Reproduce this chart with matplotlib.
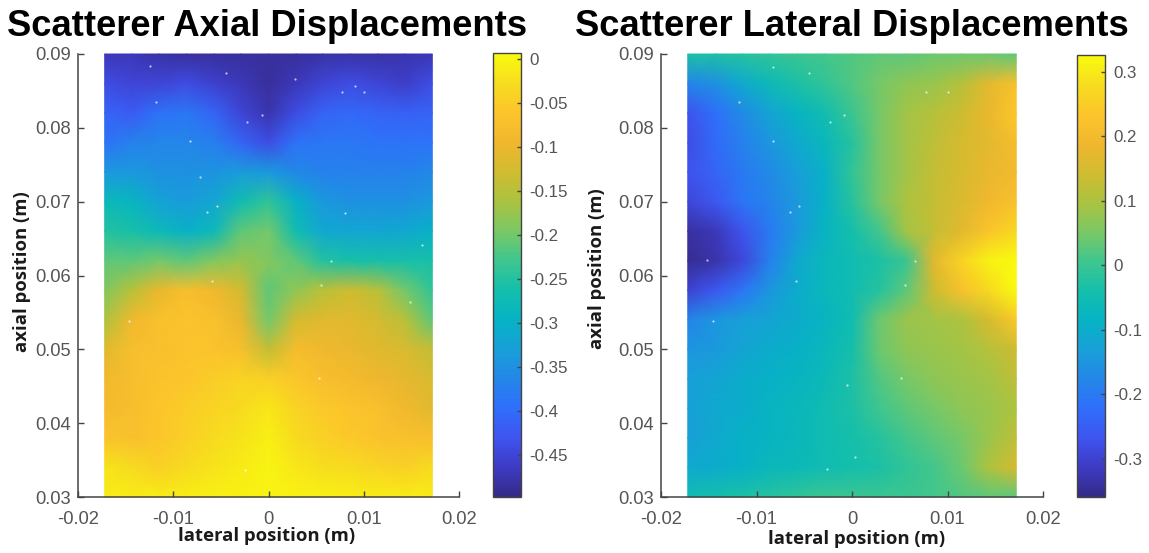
import matplotlib
matplotlib.use('Agg')
import matplotlib.pyplot as plt
from matplotlib.colors import LinearSegmentedColormap
import numpy as np

W, H = 1149, 553

parula_colors = ['#352a87', '#3d3bc4', '#3f54f0', '#2f6ffb', '#2387e8', '#18a0d8', '#06b3c4', '#14bfab',
                 '#3fc68e', '#7bc866', '#abc340', '#d0bc30', '#f0b72e', '#fcc52c', '#f7dc1f', '#f9fb0e']

lateral_pos = [-0.0172, -0.0143, -0.0115, -0.0086, -0.0057, -0.0029, 0, 0.0029, 0.0057, 0.0086, 0.0115, 0.0143, 0.0172]
axial_pos = [0.090, 0.086, 0.082, 0.078, 0.074, 0.070, 0.066, 0.062, 0.058, 0.054, 0.050, 0.046, 0.042, 0.038, 0.034, 0.030]

axial_disp = [
    [-0.47, -0.47, -0.48, -0.485, -0.485, -0.485, -0.485, -0.485, -0.48, -0.48, -0.48, -0.475, -0.47],
    [-0.44, -0.45, -0.45, -0.44, -0.455, -0.47, -0.485, -0.47, -0.45, -0.44, -0.45, -0.46, -0.44],
    [-0.41, -0.42, -0.39, -0.385, -0.41, -0.45, -0.475, -0.44, -0.41, -0.405, -0.41, -0.415, -0.41],
    [-0.39, -0.37, -0.365, -0.365, -0.375, -0.41, -0.44, -0.39, -0.385, -0.385, -0.39, -0.39, -0.39],
    [-0.34, -0.34, -0.35, -0.35, -0.345, -0.335, -0.34, -0.36, -0.37, -0.37, -0.37, -0.37, -0.36],
    [-0.28, -0.29, -0.325, -0.335, -0.32, -0.27, -0.24, -0.30, -0.34, -0.35, -0.35, -0.35, -0.34],
    [-0.25, -0.26, -0.28, -0.30, -0.28, -0.21, -0.20, -0.27, -0.315, -0.32, -0.32, -0.315, -0.30],
    [-0.21, -0.21, -0.20, -0.21, -0.19, -0.175, -0.19, -0.21, -0.25, -0.26, -0.26, -0.26, -0.26],
    [-0.19, -0.15, -0.10, -0.075, -0.09, -0.125, -0.21, -0.18, -0.15, -0.13, -0.15, -0.20, -0.24],
    [-0.16, -0.09, -0.07, -0.065, -0.07, -0.10, -0.20, -0.125, -0.11, -0.11, -0.125, -0.15, -0.21],
    [-0.11, -0.075, -0.07, -0.065, -0.065, -0.075, -0.14, -0.08, -0.09, -0.10, -0.11, -0.12, -0.14],
    [-0.09, -0.075, -0.065, -0.06, -0.05, -0.04, -0.045, -0.06, -0.075, -0.085, -0.095, -0.105, -0.12],
    [-0.085, -0.075, -0.06, -0.05, -0.04, -0.03, -0.015, -0.04, -0.055, -0.065, -0.07, -0.09, -0.11],
    [-0.065, -0.07, -0.06, -0.045, -0.03, -0.02, -0.005, -0.03, -0.045, -0.055, -0.065, -0.07, -0.075],
    [-0.02, -0.03, -0.045, -0.03, -0.02, -0.012, -0.002, -0.015, -0.025, -0.03, -0.04, -0.045, -0.03],
    [-0.01, -0.01, -0.01, -0.008, -0.006, -0.004, -0.002, -0.004, -0.006, -0.008, -0.01, -0.01, -0.01],
]

lateral_disp = [
    [-0.03, -0.03, -0.02, -0.01, 0, 0.01, 0.02, 0.03, 0.03, 0.04, 0.04, 0.04, 0.03],
    [-0.18, -0.16, -0.11, -0.06, -0.03, -0.01, 0.02, 0.05, 0.07, 0.08, 0.11, 0.17, 0.22],
    [-0.27, -0.22, -0.17, -0.12, -0.08, -0.05, 0, 0.05, 0.09, 0.11, 0.14, 0.18, 0.24],
    [-0.28, -0.23, -0.19, -0.15, -0.11, -0.07, -0.02, 0.05, 0.09, 0.12, 0.15, 0.17, 0.21],
    [-0.27, -0.24, -0.20, -0.17, -0.13, -0.09, -0.01, 0.05, 0.09, 0.13, 0.15, 0.18, 0.20],
    [-0.29, -0.26, -0.21, -0.18, -0.14, -0.09, -0.02, 0.05, 0.10, 0.13, 0.16, 0.19, 0.22],
    [-0.34, -0.32, -0.27, -0.20, -0.14, -0.08, -0.04, 0.01, 0.09, 0.13, 0.17, 0.23, 0.27],
    [-0.35, -0.33, -0.29, -0.19, -0.11, -0.07, -0.05, -0.03, 0.0, 0.17, 0.26, 0.31, 0.33],
    [-0.30, -0.26, -0.21, -0.15, -0.10, -0.07, -0.05, -0.02, 0.03, 0.14, 0.22, 0.27, 0.33],
    [-0.18, -0.15, -0.13, -0.12, -0.10, -0.08, -0.05, 0.04, 0.08, 0.09, 0.10, 0.15, 0.24],
    [-0.15, -0.14, -0.12, -0.10, -0.09, -0.07, -0.04, 0.04, 0.07, 0.08, 0.09, 0.11, 0.14],
    [-0.13, -0.12, -0.10, -0.09, -0.08, -0.06, -0.03, 0.02, 0.05, 0.07, 0.08, 0.09, 0.12],
    [-0.13, -0.11, -0.10, -0.08, -0.07, -0.05, -0.03, 0.005, 0.03, 0.05, 0.07, 0.08, 0.10],
    [-0.13, -0.11, -0.09, -0.08, -0.07, -0.05, -0.04, -0.02, 0.01, 0.03, 0.05, 0.08, 0.12],
    [-0.11, -0.10, -0.09, -0.07, -0.06, -0.05, -0.04, -0.03, -0.01, 0.01, 0.04, 0.10, 0.15],
    [-0.05, -0.04, -0.03, -0.02, -0.01, 0, 0.0, 0.0, 0.0, 0.01, 0.02, 0.03, 0.03],
]

# white specks where no scatterer sits
axial_speck_x = [-.0124, -.0118, -.0045, -.0007, -.0023, .0028, .0077, .0091, .0100, -.0082, -.0054, -.0065,
                 .0055, .0149, -.0059, .0066, .0161, .0053, -.0025, -.0146, .008, -.0072]
axial_speck_y = [.0884, .0835, .0874, .0818, .0808, .0866, .0848, .0856, .0848, .0782, .0694, .0686,
                 .0587, .0564, .0593, .0620, .0641, .0461, .0337, .0538, .0684, .0734]
lateral_speck_x = [-.0118, -.0083, -.0045, -.0008, -.0023, -.0083, -.0055, -.0065, .0055, -.0059, .0066,
                   -.0146, -.0005, .0051, -.0026, .0003, .0077, .01, -.0152]
lateral_speck_y = [.0835, .0882, .0874, .0818, .0808, .0782, .0694, .0686, .0587, .0593, .062,
                   .0538, .0452, .0461, .0338, .0354, .0848, .0848, .0621]

x_ticks = [-0.02, -0.01, 0, 0.01, 0.02]
x_labels = ['-0.02', '-0.01', '0', '0.01', '0.02']
y_ticks = [0.03, 0.04, 0.05, 0.06, 0.07, 0.08, 0.09]
y_labels = ['0.03', '0.04', '0.05', '0.06', '0.07', '0.08', '0.09']
axial_cticks = [0, -0.05, -0.1, -0.15, -0.2, -0.25, -0.3, -0.35, -0.4, -0.45]
axial_clabels = ['0', '-0.05', '-0.1', '-0.15', '-0.2', '-0.25', '-0.3', '-0.35', '-0.4', '-0.45']
lateral_cticks = [0.3, 0.2, 0.1, 0, -0.1, -0.2, -0.3]
lateral_clabels = ['0.3', '0.2', '0.1', '0', '-0.1', '-0.2', '-0.3']

parula = LinearSegmentedColormap.from_list('parula', parula_colors)
TICK_COLOR = '#555555'
plt.rcParams['font.family'] = ['Liberation Sans', 'DejaVu Sans']


def pxAxes(fig, x0, x1, ytop, ybot):
    return fig.add_axes([x0 / W, 1 - ybot / H, (x1 - x0) / W, (ybot - ytop) / H])


def panel(fig, box, cbox, values, vlim, cticks, clabels, specks, title, title_x, xlabel_pos, ylabel_pos):
    ax = pxAxes(fig, *box)
    mesh = ax.pcolormesh(lateral_pos, axial_pos, np.array(values), shading='gouraud', cmap=parula,
                         vmin=vlim[0], vmax=vlim[1], clip_on=False)
    ax.scatter(specks[0], specks[1], s=2.5, c='white', linewidths=0, alpha=0.7)
    ax.set_xlim(-0.02, 0.02)
    ax.set_ylim(0.03, 0.09)
    ax.set_xticks(x_ticks, x_labels)
    ax.set_yticks(y_ticks, y_labels)
    ax.tick_params(direction='in', length=4, width=1, color='#444444', labelcolor=TICK_COLOR, labelsize=13.2)
    ax.tick_params(axis='x', pad=10, top=False)
    ax.tick_params(axis='y', pad=5)
    ax.spines['top'].set_visible(False)
    ax.spines['right'].set_visible(False)
    for s in ['left', 'bottom']:
        ax.spines[s].set_color('#444444')
        ax.spines[s].set_linewidth(1.1)

    cax = pxAxes(fig, *cbox)
    cb = fig.colorbar(mesh, cax=cax)
    cb.set_ticks(cticks, labels=clabels)
    cax.tick_params(direction='in', length=3, width=1, color='#444444', labelcolor=TICK_COLOR, labelsize=12.2, pad=6)
    cb.outline.set_edgecolor('#444444')
    cb.outline.set_linewidth(1)

    fig.text(title_x / W, 1 - 26 / H, title, fontsize=26.2, fontweight='bold', va='center', ha='left', color='black')
    fig.text(xlabel_pos[0] / W, 1 - xlabel_pos[1] / H, 'lateral position (m)', fontsize=13.3, fontweight='bold',
             family='Open Sans', color='#1a1a1a', va='center', ha='center')
    fig.text(ylabel_pos[0] / W, 1 - ylabel_pos[1] / H, 'axial position (m)', fontsize=13.3, fontweight='bold',
             family='Open Sans', color='#1a1a1a', va='center', ha='center', rotation=90)


fig = plt.figure(figsize=(W / 100, H / 100), dpi=100)
panel(fig, (78, 459, 54, 497), (493, 521, 53, 497), axial_disp, (-0.498, 0.007), axial_cticks, axial_clabels,
      (axial_speck_x, axial_speck_y), 'Scatterer Axial Displacements', 7, (267, 536), (22, 272))
panel(fig, (661, 1043, 54, 497), (1077, 1105, 55, 497), lateral_disp, (-0.359, 0.326), lateral_cticks, lateral_clabels,
      (lateral_speck_x, lateral_speck_y), 'Scatterer Lateral Displacements', 575, (857, 539), (597, 269))
fig.savefig('out.png', dpi=100)
